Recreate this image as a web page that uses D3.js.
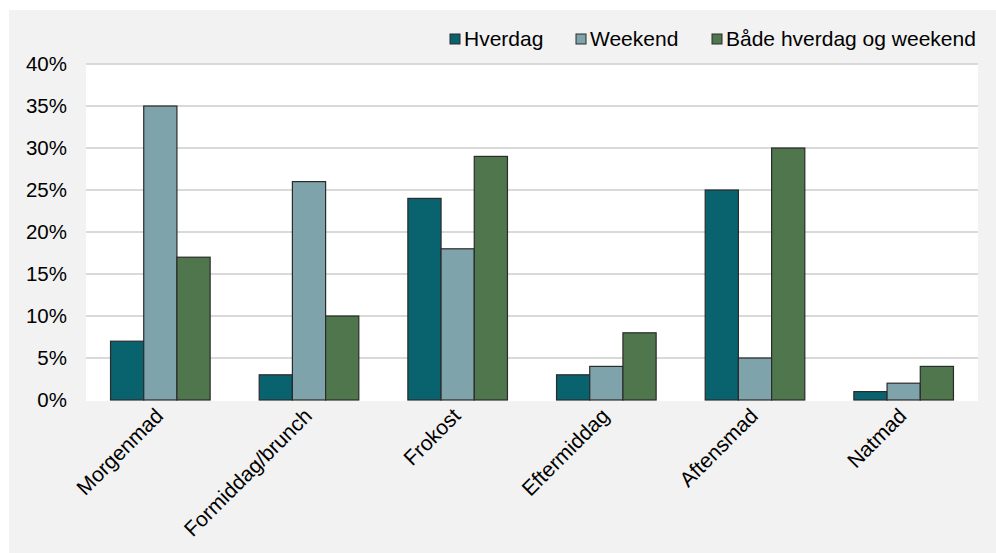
<!DOCTYPE html>
<html>
<head>
<meta charset="utf-8">
<script src="https://cdn.jsdelivr.net/npm/d3@7"></script>
<style>
  html, body { margin: 0; padding: 0; background: #ffffff; }
  svg { display: block; font-family: "Liberation Sans", Arial, sans-serif; }
</style>
</head>
<body>
<svg id="chart" width="996" height="553"></svg>
<script>
// Meal occasions and the share of respondents for each time of week
const categories = ["Morgenmad", "Formiddag/brunch", "Frokost", "Eftermiddag", "Aftensmad", "Natmad"];
const seriesNames = ["Hverdag", "Weekend", "Både hverdag og weekend"];
const hverdag = [7, 3, 24, 3, 25, 1];
const weekend = [35, 26, 18, 4, 5, 2];
const begge = [17, 10, 29, 8, 30, 4];
const yTicks = [0, 5, 10, 15, 20, 25, 30, 35, 40];
const colors = ["#08636e", "#7fa3ab", "#4f764c"];

const seriesValues = [hverdag, weekend, begge];

const svg = d3.select("#chart");

// outer panel
svg.append("rect").attr("x", 9).attr("y", 10).attr("width", 987).attr("height", 543).attr("fill", "#f2f2f2");

const plot = { left: 86, right: 978, top: 64, bottom: 400 };

// plot area
svg.append("rect")
  .attr("x", plot.left).attr("y", plot.top - 1)
  .attr("width", plot.right - plot.left).attr("height", plot.bottom - plot.top + 2)
  .attr("fill", "#ffffff");

const x0 = d3.scaleBand().domain(categories).range([plot.left, plot.right]).paddingInner(0.33).paddingOuter(0.165);
const x1 = d3.scaleBand().domain(seriesNames).range([0, x0.bandwidth()]).padding(0);
const y = d3.scaleLinear().domain([0, 40]).range([plot.bottom, plot.top]);

// gridlines
svg.append("g").selectAll("line").data(yTicks.filter(t => t > 0)).join("line")
  .attr("x1", plot.left).attr("x2", plot.right)
  .attr("y1", d => y(d)).attr("y2", d => y(d))
  .attr("stroke", "#d9d9d9").attr("stroke-width", 2);

// y axis labels
const yAxis = d3.axisLeft(y).tickValues(yTicks).tickFormat(d => d + "%").tickSize(0).tickPadding(19);
const yg = svg.append("g").attr("transform", `translate(${plot.left},0)`).call(yAxis);
yg.select(".domain").remove();
yg.selectAll("text").attr("font-size", 20.5).attr("fill", "#000").attr("font-family", "Liberation Sans, Arial, sans-serif");

// bars
const groups = svg.append("g").selectAll("g").data(categories).join("g")
  .attr("transform", d => `translate(${x0(d)},0)`);

groups.selectAll("rect")
  .data((c, i) => seriesNames.map((s, j) => ({ s, v: seriesValues[j][i], j })))
  .join("rect")
  .attr("x", d => x1(d.s))
  .attr("y", d => y(d.v))
  .attr("width", x1.bandwidth())
  .attr("height", d => y(0) - y(d.v))
  .attr("fill", d => colors[d.j])
  .attr("stroke", "#2b2b2b")
  .attr("stroke-width", 1.2);

// x axis labels, rotated
const xAxis = d3.axisBottom(x0).tickSize(0).tickPadding(0);
const xg = svg.append("g").attr("transform", `translate(0,${plot.bottom})`).call(xAxis);
xg.select(".domain").remove();
xg.selectAll("text")
  .attr("font-size", 21).attr("fill", "#000").attr("font-family", "Liberation Sans, Arial, sans-serif")
  .attr("text-anchor", "end")
  .attr("dy", "0.35em")
  .attr("transform", "translate(-1,12) rotate(-45)");

// legend
const legendX = [450, 576, 712];
const legend = svg.append("g").selectAll("g").data(seriesNames).join("g")
  .attr("transform", (d, i) => `translate(${legendX[i]},39)`);
legend.append("rect").attr("x", 0).attr("y", -5).attr("width", 10).attr("height", 10)
  .attr("fill", (d, i) => colors[i]).attr("stroke", "#2b2b2b").attr("stroke-width", 1);
legend.append("text").attr("x", 14).attr("y", 0).attr("dy", "0.35em")
  .attr("font-size", 21).attr("fill", "#000").text(d => d);
</script>
</body>
</html>
